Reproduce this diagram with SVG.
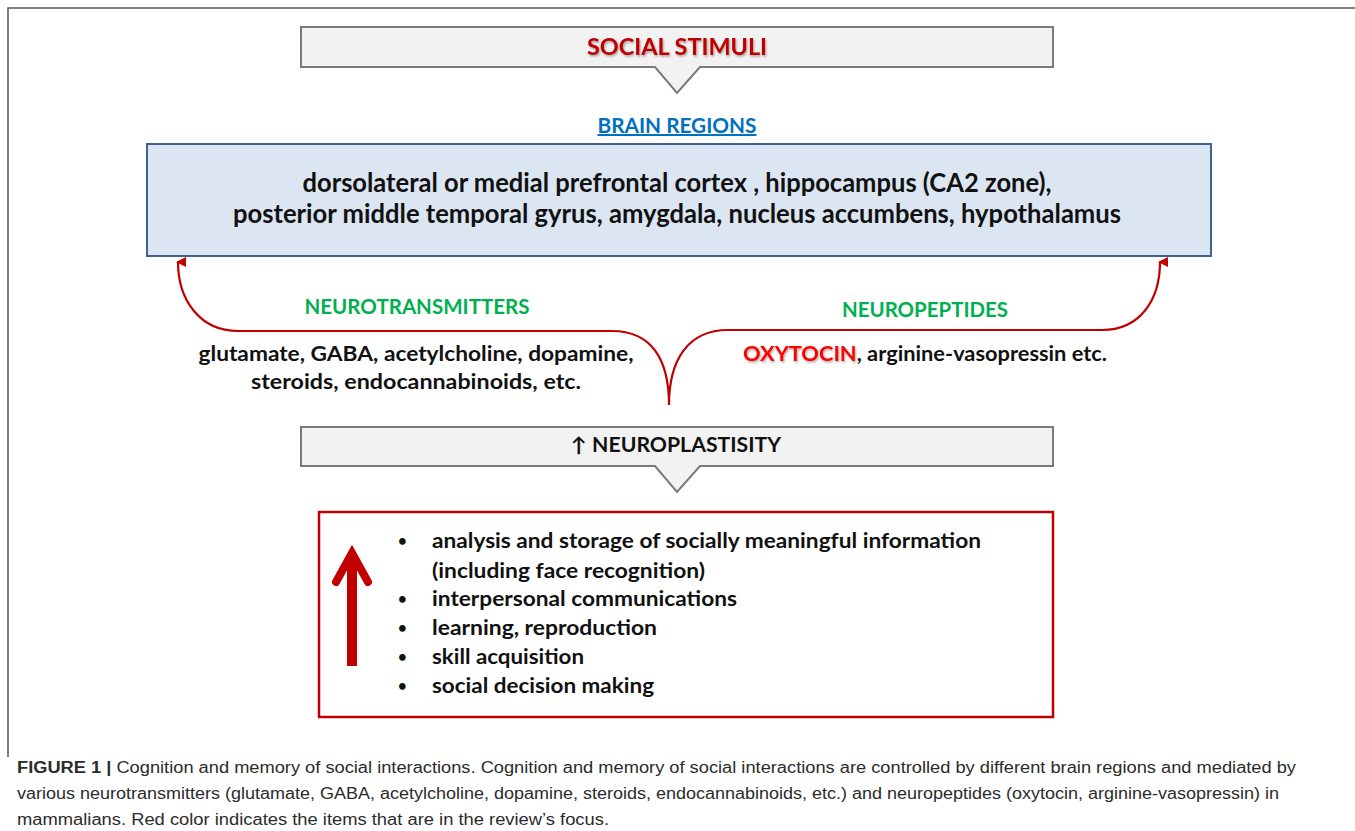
<svg xmlns="http://www.w3.org/2000/svg" width="1355" height="831" viewBox="0 0 1355 831">
<style>
  .d { font-family: Lato, "Open Sans", "Liberation Sans", sans-serif; font-weight: bold; }
  .blk { fill: #111; }
  .callout { fill: #f2f2f2; stroke: #7a7a7a; stroke-width: 2; }
  .conn { fill: none; stroke: #c00000; stroke-width: 2.2; }
  .cap { font-family: "Liberation Sans", Arial, sans-serif; font-size: 16px; fill: #2b2b2b; }
  .item { font-size: 21px; }
  .bul { font-size: 15px; }
</style>
<defs>
  <marker id="ah" viewBox="0 0 10 10" refX="5" refY="2" markerWidth="10" markerHeight="10" markerUnits="userSpaceOnUse" orient="auto-start-reverse">
    <path d="M0,10 L5,0 L10,10 Z" fill="#c00000"/>
  </marker>
  <filter id="sh" x="-5%" y="-20%" width="110%" height="150%">
    <feDropShadow dx="1" dy="1.5" stdDeviation="0.8" flood-color="#000" flood-opacity="0.35"/>
  </filter>
</defs>
<rect width="1355" height="831" fill="#fff"/>
<path d="M8,757 V8 H1355" fill="none" stroke="#555" stroke-width="1.5"/>

<g id="social-stimuli">
  <path class="callout" d="M301,27 H1053 V67 H700 L677,93 L655,67 H301 Z"/>
  <text class="d" x="677" y="55" text-anchor="middle" font-size="23" fill="#c00000" textLength="180" lengthAdjust="spacingAndGlyphs" filter="url(#sh)">SOCIAL STIMULI</text>
</g>

<g id="brain-regions">
  <text class="d" x="677" y="133" text-anchor="middle" font-size="20" fill="#0070c0" text-decoration="underline" textLength="159" lengthAdjust="spacingAndGlyphs">BRAIN REGIONS</text>
  <rect x="147" y="144" width="1064" height="112" fill="#dce6f2" stroke="#3f6294" stroke-width="2"/>
  <text class="d blk" x="677" y="192" text-anchor="middle" font-size="26" textLength="749" lengthAdjust="spacingAndGlyphs">dorsolateral or medial prefrontal cortex , hippocampus (CA2 zone),</text>
  <text class="d blk" x="677" y="223" text-anchor="middle" font-size="26" textLength="888" lengthAdjust="spacingAndGlyphs">posterior middle temporal gyrus, amygdala, nucleus accumbens, hypothalamus</text>
</g>

<g id="connectors">
  <path class="conn" d="M669,405 C669,360 652,331 612,331 L238,331 C200,331 178,300 178,262" marker-end="url(#ah)"/>
  <path class="conn" d="M669,405 C669,360 688,330 728,330 L1102,330 C1140,330 1160,300 1160,262" marker-end="url(#ah)"/>
</g>

<g id="neurotransmitters">
  <text class="d" x="417" y="314" text-anchor="middle" font-size="20" fill="#00b050" textLength="225" lengthAdjust="spacingAndGlyphs">NEUROTRANSMITTERS</text>
  <text class="d blk" x="416" y="361" text-anchor="middle" font-size="21" textLength="435" lengthAdjust="spacingAndGlyphs">glutamate, GABA, acetylcholine, dopamine,</text>
  <text class="d blk" x="416" y="389" text-anchor="middle" font-size="21" textLength="330" lengthAdjust="spacingAndGlyphs">steroids, endocannabinoids, etc.</text>
</g>

<g id="neuropeptides">
  <text class="d" x="925" y="317" text-anchor="middle" font-size="20" fill="#00b050" textLength="166" lengthAdjust="spacingAndGlyphs">NEUROPEPTIDES</text>
  <text class="d" x="743" y="361" font-size="21" textLength="364" lengthAdjust="spacingAndGlyphs"><tspan fill="#ff0000" filter="url(#sh)">OXYTOCIN</tspan><tspan fill="#111">, arginine-vasopressin etc.</tspan></text>
</g>

<g id="neuroplastisity">
  <path class="callout" d="M301,427 H1053 V466 H700 L677,492 L655,466 H301 Z"/>
  <text class="d blk" x="676" y="452" text-anchor="middle" font-size="20" textLength="210" lengthAdjust="spacingAndGlyphs">↑ NEUROPLASTISITY</text>
</g>

<g id="outcomes">
  <rect x="319" y="512" width="734" height="205" fill="#fff" stroke="#c00000" stroke-width="2.5"/>
  <path d="M352,666 V560" stroke="#c00000" stroke-width="10" fill="none"/>
  <path d="M336,582 L352,553 L368,582" stroke="#c00000" stroke-width="8" fill="none" stroke-linecap="round" stroke-linejoin="miter"/>
  <g class="d blk">
    <text class="bul" x="398" y="546">•</text>
    <text class="item" x="432" y="548" textLength="549" lengthAdjust="spacingAndGlyphs">analysis and storage of socially meaningful information</text>
    <text class="item" x="432" y="578" textLength="273" lengthAdjust="spacingAndGlyphs">(including face recognition)</text>
    <text class="bul" x="398" y="604">•</text>
    <text class="item" x="432" y="606" textLength="305" lengthAdjust="spacingAndGlyphs">interpersonal communications</text>
    <text class="bul" x="398" y="633">•</text>
    <text class="item" x="432" y="635" textLength="225" lengthAdjust="spacingAndGlyphs">learning, reproduction</text>
    <text class="bul" x="398" y="662">•</text>
    <text class="item" x="432" y="664" textLength="152" lengthAdjust="spacingAndGlyphs">skill acquisition</text>
    <text class="bul" x="398" y="691">•</text>
    <text class="item" x="432" y="693" textLength="222" lengthAdjust="spacingAndGlyphs">social decision making</text>
  </g>
</g>

<g id="caption" class="cap">
  <text x="17" y="773" textLength="1279" lengthAdjust="spacingAndGlyphs"><tspan font-weight="bold">FIGURE 1 |</tspan> Cognition and memory of social interactions. Cognition and memory of social interactions are controlled by different brain regions and mediated by</text>
  <text x="17" y="799" textLength="1262" lengthAdjust="spacingAndGlyphs">various neurotransmitters (glutamate, GABA, acetylcholine, dopamine, steroids, endocannabinoids, etc.) and neuropeptides (oxytocin, arginine-vasopressin) in</text>
  <text x="17" y="825" textLength="592" lengthAdjust="spacingAndGlyphs">mammalians. Red color indicates the items that are in the review’s focus.</text>
</g>
</svg>
